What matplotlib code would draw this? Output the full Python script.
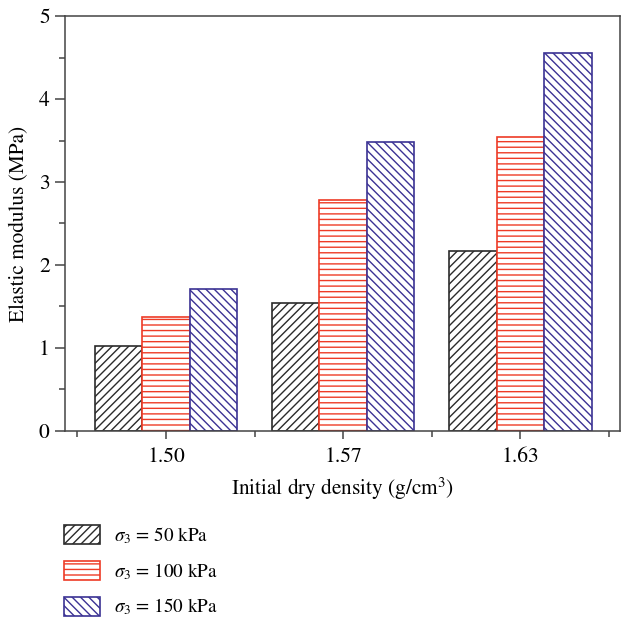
import numpy as np
import matplotlib
matplotlib.use("Agg")
import matplotlib.pyplot as plt
from matplotlib.ticker import MultipleLocator, FixedLocator

# Elastic modulus (MPa) for each initial dry density and confining pressure
densities = ["1.50", "1.57", "1.63"]
e_50 = [1.03, 1.54, 2.17]
e_100 = [1.37, 2.78, 3.54]
e_150 = [1.71, 3.48, 4.56]
labels = [r"$\sigma_3$ = 50 kPa", r"$\sigma_3$ = 100 kPa", r"$\sigma_3$ = 150 kPa"]

plt.rcParams["font.family"] = ["STIXGeneral", "DejaVu Serif"]
plt.rcParams["mathtext.fontset"] = "stix"
plt.rcParams["hatch.linewidth"] = 1.0

fig = plt.figure(figsize=(6.22, 6.18), dpi=100)
ax = fig.add_axes([0.1045, 0.3026, 0.893, 0.6715])

x = np.arange(len(densities))
w = 0.268
series = [e_50, e_100, e_150]
colors = ["#2b2b2b", "#ee3b26", "#3b3294"]
hatches = ["////", "---", "\\\\\\\\"]

for i, vals in enumerate(series):
    ax.bar(x + (i - 1) * w, vals, w, facecolor="white", edgecolor=colors[i],
           hatch=hatches[i], linewidth=1.2, label=labels[i])

ax.set_xlim(-0.57, 2.565)
ax.set_ylim(0, 5)
ax.set_xticks(x)
ax.set_xticklabels(densities)
ax.xaxis.set_minor_locator(FixedLocator([-0.5, 0.5, 1.5, 2.5]))
ax.yaxis.set_major_locator(MultipleLocator(1))
ax.yaxis.set_minor_locator(MultipleLocator(0.5))

for sp in ax.spines.values():
    sp.set_color("#444444")
    sp.set_linewidth(1.1)
ax.tick_params(which="both", direction="out", color="#444444", labelsize=15.5, width=1.1)
ax.tick_params(which="major", length=7, pad=4)
ax.tick_params(which="minor", length=4)
ax.tick_params(axis="x", which="major", length=6, pad=6)

ax.set_xlabel("Initial dry density (g/cm$^3$)", fontsize=15.3, labelpad=6)
ax.set_ylabel("Elastic modulus (MPa)", fontsize=15.3, labelpad=7)

fig.legend(loc="upper left", bbox_to_anchor=(0.103, 0.15), frameon=False,
           fontsize=13.8, handlelength=1.9, handleheight=1.15, labelspacing=0.78,
           handletextpad=0.7, borderpad=0, borderaxespad=0)

fig.savefig("out.png", dpi=100)
